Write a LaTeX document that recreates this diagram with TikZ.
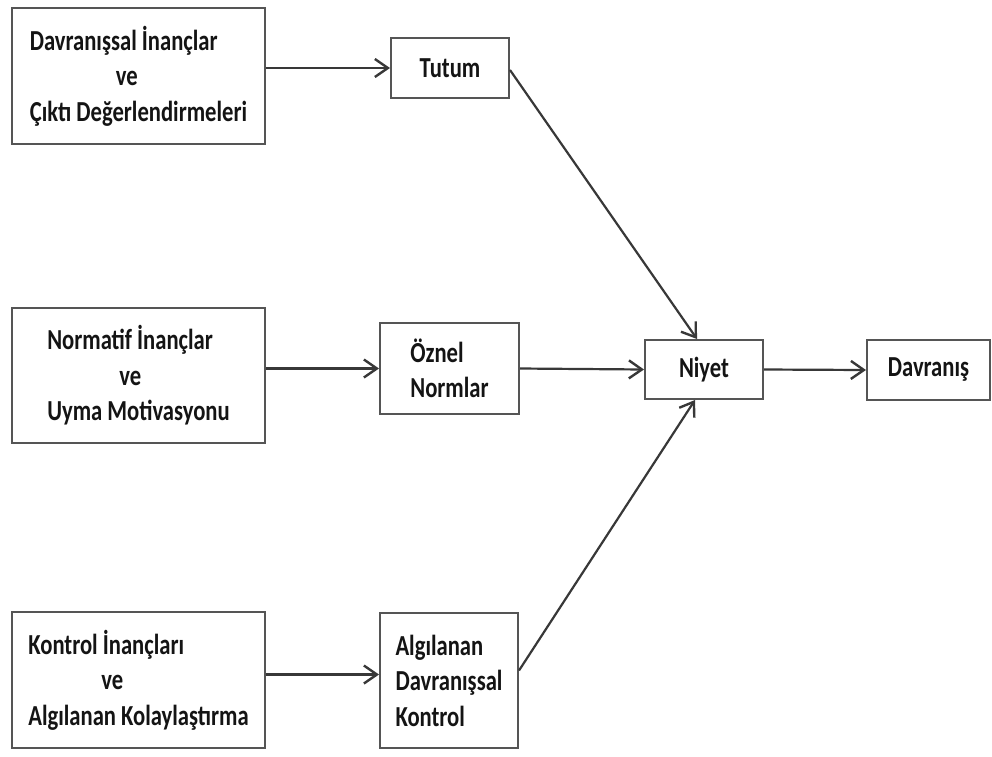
\documentclass[tikz,border=0pt]{standalone}
\usepackage{fontspec}
\setmainfont{Carlito}[FakeStretch=0.78]
\usetikzlibrary{arrows.meta}
\definecolor{boxline}{HTML}{555555}
\definecolor{arrline}{HTML}{383838}
\definecolor{txt}{HTML}{141414}
\begin{document}
\begin{tikzpicture}[x=1pt,y=-1pt,
  every node/.style={font=\fontsize{29}{35.5}\selectfont\bfseries, text=txt},
  boxnode/.style={draw=boxline, line width=2pt, fill=white, inner sep=0pt},
  conn/.style={draw=arrline, line width=2.2pt, -{Straight Barb[length=13pt,width=18pt,line width=2.4pt]}}]
\useasboundingbox (0,0) rectangle (992,756);
\node[boxnode, minimum width=253pt, minimum height=136pt, align=left] (b1) at (138.5,76)
  {Davranışsal İnançlar\\\hspace*{86pt}ve\\Çıktı Değerlendirmeleri};
\node[boxnode, minimum width=253pt, minimum height=135pt, align=left] (b2) at (138.5,375.5)
  {Normatif İnançlar\\\hspace*{72pt}ve\\Uyma Motivasyonu};
\node[boxnode, minimum width=253pt, minimum height=136pt, align=left] (b3) at (138.5,680)
  {Kontrol İnançları\\\hspace*{73pt}ve\\Algılanan Kolaylaştırma};
\node[boxnode, minimum width=118pt, minimum height=60pt] (tutum) at (450,68) {Tutum};
\node[boxnode, minimum width=139pt, minimum height=91pt, align=left] (oznel) at (449.5,368.5) {Öznel\\Normlar};
\node[boxnode, minimum width=138pt, minimum height=135pt, align=left] (alg) at (449,680.5) {Algılanan\\Davranışsal\\Kontrol};
\node[boxnode, minimum width=118pt, minimum height=59pt] (niyet) at (704,369.5) {Niyet};
\node[boxnode, minimum width=123pt, minimum height=60pt] (dav) at (928.5,370) {Davranış};
\draw[conn] (b1.east |- tutum.west) -- (tutum.west);
\draw[conn] (b2.east |- oznel.west) -- (oznel.west);
\draw[conn] ([yshift=6pt]b3.east |- alg.west) -- ([yshift=6pt]alg.west);
\draw[conn] ([yshift=-2pt]tutum.east) -- ([xshift=-7pt]niyet.north);
\draw[conn] (oznel.east) -- (niyet.west);
\draw[conn] ([yshift=10pt]alg.east) -- ([xshift=-9pt]niyet.south);
\draw[conn] (niyet.east) -- (dav.west);
\end{tikzpicture}
\end{document}
